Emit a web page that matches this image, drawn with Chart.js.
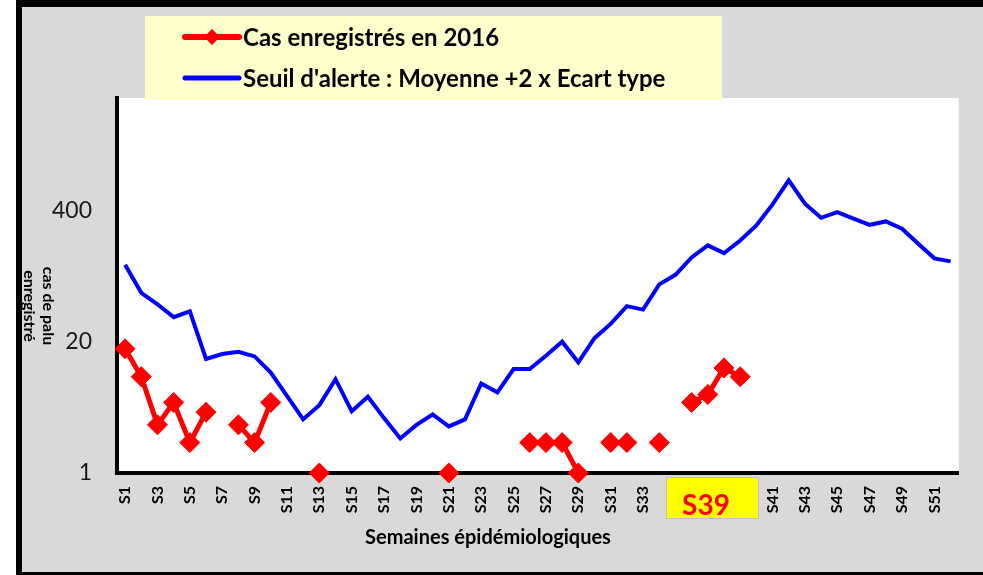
<!DOCTYPE html>
<html>
<head>
<meta charset="utf-8">
<script src="https://cdn.jsdelivr.net/npm/chart.js@4/dist/chart.umd.min.js"></script>
<style>
  body { margin: 0; background: #fff; }
  canvas { display: block; }
</style>
</head>
<body>
<canvas id="paluChart" width="983" height="575"></canvas>
<script>
// semaines S1..S52
const weeks = Array.from({ length: 52 }, (_, i) => 'S' + (i + 1));

// cas enregistrés en 2016 (null = pas de cas)
const cases2016 = [17, 9, 3, 5, 2, 4, null, 3, 2, 5, null, null, 1,
  null, null, null, null, null, null, null, 1, null, null, null, null,
  2, 2, 2, 1, null, 2, 2, null, 2, null, 5, 6, 11, 9,
  null, null, null, null, null, null, null, null, null, null, null, null, null];

// seuil d'alerte : moyenne + 2 x écart type
const alertThreshold = [116, 61, 47, 35, 40, 13.5, 15.1, 15.9, 14.3, 9.9,
  5.8, 3.4, 4.7, 8.5, 4.1, 5.7, 3.5, 2.2, 3.0, 3.8, 2.9, 3.4, 7.7, 6.3,
  10.7, 10.7, 14.5, 20, 12.5, 21.7, 30, 45, 41.6, 74, 92, 137, 180, 151,
  201, 284, 459, 794, 466, 338, 385, 331, 288, 311, 263, 187, 134, 125];

const yTicks = [1, 20, 400];

const FONT = 'Lato, "Open Sans", sans-serif';

// fond gris, cadre et zone blanche du graphique
const framePlugin = {
  id: 'frame',
  beforeDraw(chart) {
    const ctx = chart.ctx;
    const a = chart.chartArea;
    ctx.save();
    ctx.fillStyle = '#ffffff';
    ctx.fillRect(0, 0, chart.width, chart.height);
    ctx.fillStyle = '#d9d9d9';
    ctx.fillRect(16, 0, chart.width - 16, chart.height);
    ctx.fillStyle = '#000';
    ctx.fillRect(16, 0, chart.width - 16, 7);
    ctx.fillRect(16, 0, 6, chart.height);
    ctx.fillRect(16, chart.height - 3, chart.width - 16, 3);
    ctx.fillStyle = '#ffffff';
    ctx.fillRect(a.left, a.top, a.right - a.left, a.bottom - a.top);
    ctx.restore();
  }
};

// titres des axes, légende et étiquette S39
const extrasPlugin = {
  id: 'extras',
  afterDraw(chart) {
    const ctx = chart.ctx;
    ctx.save();

    // titre axe Y (deux lignes, rotation horaire)
    ctx.fillStyle = '#000';
    ctx.font = 'bold 16px ' + FONT;
    ctx.textAlign = 'center';
    ctx.textBaseline = 'middle';
    ctx.save();
    ctx.translate(48, 306);
    ctx.rotate(Math.PI / 2);
    ctx.fillText('cas de palu', 0, 0);
    ctx.restore();
    ctx.save();
    ctx.translate(29, 306);
    ctx.rotate(Math.PI / 2);
    ctx.fillText('enregistré', 0, 0);
    ctx.restore();

    // titre axe X
    ctx.font = 'bold 20px ' + FONT;
    ctx.fillText('Semaines épidémiologiques', 488, 538);

    // légende
    ctx.fillStyle = '#ffffcc';
    ctx.fillRect(145, 16, 577, 84);
    const ds = chart.data.datasets;
    const rows = [37, 78];
    ds.forEach((d, i) => {
      const y = rows[i];
      ctx.strokeStyle = d.borderColor;
      ctx.lineWidth = d.borderWidth + 1;
      ctx.lineCap = 'round';
      ctx.beginPath();
      ctx.moveTo(185, y);
      ctx.lineTo(239, y);
      ctx.stroke();
      if (d.pointRadius > 0) {
        ctx.fillStyle = d.pointBackgroundColor;
        ctx.beginPath();
        ctx.moveTo(212, y - 8);
        ctx.lineTo(220, y);
        ctx.lineTo(212, y + 8);
        ctx.lineTo(204, y);
        ctx.closePath();
        ctx.fill();
      }
      ctx.fillStyle = '#000';
      ctx.font = 'bold 24px ' + FONT;
      ctx.textAlign = 'left';
      ctx.fillText(d.label, 243, y + 1);
    });

    // étiquette semaine courante
    ctx.fillStyle = '#ffff00';
    ctx.fillRect(666, 477, 93, 42);
    ctx.strokeStyle = '#bfbfbf';
    ctx.lineWidth = 1;
    ctx.strokeRect(666.5, 477.5, 92, 41);
    ctx.fillStyle = '#ff0000';
    ctx.font = 'bold 28px ' + FONT;
    ctx.textAlign = 'center';
    ctx.fillText('S39', 706, 506);

    ctx.restore();
  }
};

new Chart(document.getElementById('paluChart').getContext('2d'), {
  type: 'line',
  data: {
    labels: weeks,
    datasets: [{
      label: 'Cas enregistrés en 2016',
      data: cases2016,
      borderColor: '#ff0000',
      backgroundColor: '#ff0000',
      borderWidth: 5,
      pointStyle: 'rectRot',
      pointRadius: 10,
      pointBackgroundColor: '#ff0000',
      pointBorderColor: '#ff0000',
      pointBorderWidth: 1,
      spanGaps: false,
      tension: 0,
      clip: false
    }, {
      label: "Seuil d'alerte : Moyenne +2 x Ecart type",
      data: alertThreshold,
      borderColor: '#0000ff',
      backgroundColor: '#0000ff',
      borderWidth: 4,
      pointRadius: 0,
      tension: 0
    }]
  },
  options: {
    responsive: false,
    animation: false,
    devicePixelRatio: 1,
    layout: { padding: { top: 98, right: 22, left: 0, bottom: 0 } },
    plugins: {
      legend: { display: false },
      tooltip: { enabled: false }
    },
    scales: {
      x: {
        offset: true,
        grid: { display: false, drawTicks: false },
        border: { display: true, color: '#000', width: 4 },
        ticks: {
          autoSkip: false,
          minRotation: 90,
          maxRotation: 90,
          padding: 13,
          color: '#000',
          font: { family: FONT, size: 16, weight: 'bold' },
          callback: (v, i) => (i % 2 === 0 ? weeks[i] : '')
        },
        afterFit(scale) { scale.height = 102; }
      },
      y: {
        type: 'logarithmic',
        min: 1,
        max: 5200,
        grid: { display: false, drawTicks: false },
        border: { display: true, color: '#000', width: 4 },
        afterBuildTicks(scale) {
          scale.ticks = yTicks.map(v => ({ value: v }));
        },
        ticks: {
          padding: 25,
          color: '#1a1a1a',
          font: { family: FONT, size: 23 },
          callback: v => String(v)
        },
        afterFit(scale) { scale.width = 117; }
      }
    }
  },
  plugins: [framePlugin, extrasPlugin]
});
</script>
</body>
</html>
